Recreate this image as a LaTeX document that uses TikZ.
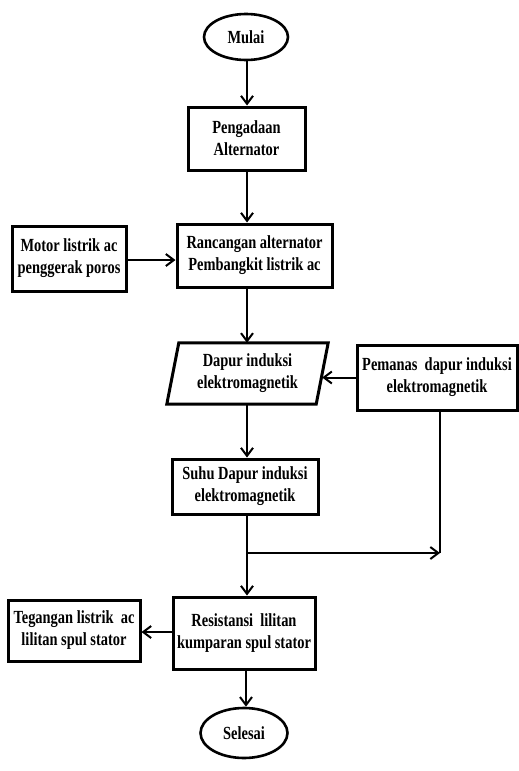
\documentclass[tikz,border=0pt]{standalone}
\usepackage{fontspec}
\setmainfont{Liberation Serif}[FakeStretch=0.78]
\usetikzlibrary{arrows.meta,shapes.geometric}
\begin{document}
\begin{tikzpicture}[x=1pt,y=-1pt,
  txt/.style={font=\fontsize{18.5}{22}\selectfont\bfseries, align=center, inner sep=0pt},
  box/.style={txt, draw, line width=3pt, rectangle},
  term/.style={txt, draw, line width=2.6pt, ellipse},
  conn/.style={line width=2pt},
  arr/.style={conn, -{Straight Barb[length=8pt,width=12pt,line width=2pt]}}]
\useasboundingbox (0,0) rectangle (519,771);
\node[term, minimum width=84, minimum height=46] (mulai) at (246,37) {Mulai};
\node[box, minimum width=117, minimum height=63] (peng) at (246.5,138.5) {Pengadaan\\Alternator};
\node[box, minimum width=155, minimum height=63] (ranc) at (254.5,255.5) {Rancangan alternator\\Pembangkit listrik ac};
\node[box, minimum width=114, minimum height=65] (motor) at (69,258.5) {Motor listrik ac\\penggerak poros};
\node[txt, minimum width=149, minimum height=61] (dapur) at (247.5,373.5) {Dapur induksi\\elektromagnetik};
\draw[line width=3pt, line join=miter]
  ([xshift=6]dapur.north west) -- ([xshift=6]dapur.north east) --
  ([xshift=-6]dapur.south east) -- ([xshift=-6]dapur.south west) -- cycle;
\node[box, minimum width=160, minimum height=65] (pem) at (437,377.5) {Pemanas\ \ dapur induksi\\elektromagnetik};
\node[box, minimum width=146, minimum height=55] (suhu) at (245,486.5) {Suhu Dapur induksi\\elektromagnetik};
\node[box, minimum width=142, minimum height=72] (res) at (244,633) {Resistansi\ \ lilitan\\kumparan spul stator};
\node[box, minimum width=132, minimum height=61] (teg) at (74,630.5) {Tegangan listrik\ \ ac\\lilitan spul stator};
\node[term, minimum width=87, minimum height=50] (sel) at (244,733) {Selesai};
\coordinate (j) at (247,553);
\coordinate (pd) at (440,553);
\draw[arr] (mulai.south -| 247,0) -- (247,0 |- peng.north);
\draw[arr] (peng.south -| 247,0) -- (247,0 |- ranc.north);
\draw[arr] (motor.east |- 0,260) -- (ranc.west |- 0,260);
\draw[arr] (ranc.south -| 247,0) -- (247,0 |- dapur.north);
\draw[arr] (pem.west) -- (pem.west -| dapur.east);
\draw[arr] (dapur.south -| 247,0) -- (247,0 |- suhu.north);
\draw[conn] (pem.south -| pd) -- (pd);
\draw[conn] (suhu.south -| j) -- (j);
\draw[arr] (j) -- (pd);
\draw[arr] (j) -- (247,0 |- res.north);
\draw[arr] (res.west |- 0,632) -- (teg.east |- 0,632);
\draw[arr] (res.south -| 246,0) -- (246,0 |- sel.north);
\end{tikzpicture}
\end{document}
